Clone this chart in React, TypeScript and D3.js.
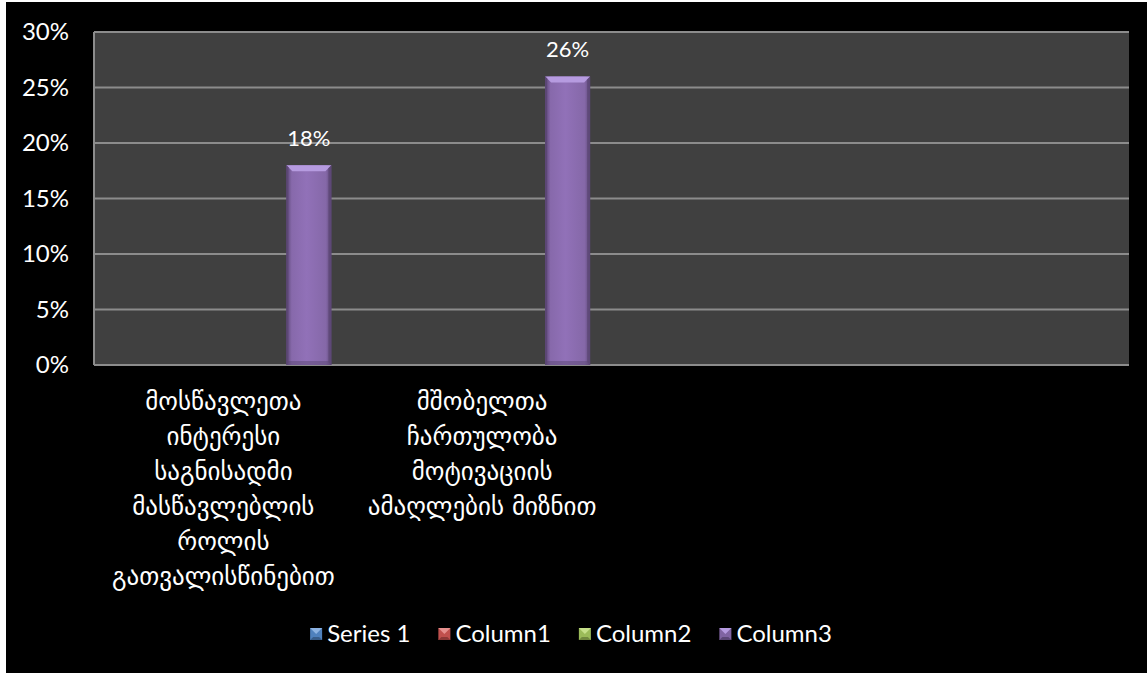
import React, { useEffect, useRef } from "react";
import * as d3 from "d3";

const categories: string[][] = [
  ["მოსწავლეთა", "ინტერესი", "საგნისადმი", "მასწავლებლის", "როლის", "გათვალისწინებით"],
  ["მშობელთა", "ჩართულობა", "მოტივაციის", "ამაღლების მიზნით"],
  [],
  [],
];
const seriesNames = ["Series 1", "Column1", "Column2", "Column3"];
const seriesColors = ["#4F81BD", "#C0504D", "#9BBB59", "#8064A2"];
const seriesLight = ["#8DB3E2", "#E6908E", "#C6E08A", "#B69BE0"];
const seriesDark = ["#385D8A", "#8C3836", "#71893F", "#5C4776"];
const series1: (number | null)[] = [null, null, null, null];
const column1: (number | null)[] = [null, null, null, null];
const column2: (number | null)[] = [null, null, null, null];
const column3: (number | null)[] = [0.18, 0.26, null, null];
const yTicks = [0, 0.05, 0.1, 0.15, 0.2, 0.25, 0.3];

const W = 1147;
const H = 673;
const LATIN = "Lato, 'DejaVu Sans', sans-serif";
const GEO = "'DejaVu Sans', sans-serif";

export default function App() {
  const ref = useRef<SVGSVGElement>(null);
  useEffect(() => {
    const svg = d3.select(ref.current);
    svg.selectAll("*").remove();
    const allSeries = [series1, column1, column2, column3];

    const defs = svg.append("defs");
    seriesNames.forEach((_, i) => {
      const g = defs.append("linearGradient").attr("id", "grad" + i).attr("x1", 0).attr("x2", 1).attr("y1", 0).attr("y2", 0);
      g.append("stop").attr("offset", "0%").attr("stop-color", seriesDark[i]);
      g.append("stop").attr("offset", "12%").attr("stop-color", d3.color(seriesColors[i])!.brighter(0.15).toString());
      g.append("stop").attr("offset", "45%").attr("stop-color", d3.color(seriesColors[i])!.brighter(0.35).toString());
      g.append("stop").attr("offset", "88%").attr("stop-color", d3.color(seriesColors[i])!.brighter(0.1).toString());
      g.append("stop").attr("offset", "100%").attr("stop-color", seriesDark[i]);
    });

    svg.append("rect").attr("x", 0).attr("y", 0).attr("width", W).attr("height", H).attr("fill", "#ffffff");
    svg.append("rect").attr("x", 6).attr("y", 2).attr("width", W - 6).attr("height", H - 2).attr("fill", "#000000");

    const left = 94, right = 1129, top = 32, bottom = 365;
    const y = d3.scaleLinear().domain([0, 0.3]).range([bottom, top]);
    const x0 = d3.scaleBand<number>().domain(categories.map((_, i) => i)).range([left, right]).padding(0);
    const groupW = x0.bandwidth() * 0.835;
    const x1 = d3.scaleBand<string>().domain(seriesNames).range([-groupW / 2, groupW / 2]).paddingInner(0.21).paddingOuter(0);

    svg.append("rect").attr("x", left).attr("y", top).attr("width", right - left).attr("height", bottom - top).attr("fill", "#404040");

    // gridlines
    svg.append("g").selectAll("line").data(yTicks).join("line")
      .attr("x1", left).attr("x2", right)
      .attr("y1", (d) => y(d)).attr("y2", (d) => y(d))
      .attr("stroke", "#8c8c8c").attr("stroke-width", 2);
    svg.append("line").attr("x1", left).attr("x2", left).attr("y1", top).attr("y2", bottom)
      .attr("stroke", "#8c8c8c").attr("stroke-width", 2);

    // y tick labels
    svg.append("g").selectAll("text").data(yTicks).join("text")
      .attr("x", 69).attr("y", (d) => y(d)).attr("dy", "0.35em")
      .attr("text-anchor", "end").attr("fill", "#ffffff")
      .style("font-family", LATIN).style("font-size", "24px")
      .text((d) => d3.format(".0%")(d));

    // bars
    allSeries.forEach((vals, si) => {
      const g = svg.append("g");
      vals.forEach((v, ci) => {
        if (v == null) return;
        const bx = x0(ci)! + x0.bandwidth() / 2 + x1(seriesNames[si])!;
        const bw = x1.bandwidth();
        const by = y(v);
        const bh = y(0) - by;
        const b = 6;
        g.append("rect").attr("x", bx).attr("y", by).attr("width", bw).attr("height", bh).attr("fill", `url(#grad${si})`);
        g.append("polygon")
          .attr("points", [[bx, by], [bx + bw, by], [bx + bw - b, by + b], [bx + b, by + b]].map((p) => p.join(",")).join(" "))
          .attr("fill", seriesLight[si]);
        g.append("polygon")
          .attr("points", [[bx, by], [bx + 2, by + 2], [bx + 2, by + bh - 2], [bx, by + bh]].map((p) => p.join(",")).join(" "))
          .attr("fill", seriesDark[si]);
        g.append("polygon")
          .attr("points", [[bx + bw, by], [bx + bw - 3, by + 3], [bx + bw - 3, by + bh - 3], [bx + bw, by + bh]].map((p) => p.join(",")).join(" "))
          .attr("fill", seriesDark[si]).attr("opacity", 0.8);
        g.append("rect").attr("x", bx).attr("y", by + bh - 4).attr("width", bw).attr("height", 4)
          .attr("fill", seriesDark[si]).attr("opacity", 0.5);
        g.append("text").attr("x", bx + bw / 2).attr("y", by - 19)
          .attr("text-anchor", "middle").attr("fill", "#ffffff")
          .style("font-family", LATIN).style("font-size", "22px")
          .text(d3.format(".0%")(v));
      });
    });

    // category labels
    categories.forEach((lines, ci) => {
      const cx = x0(ci)! + x0.bandwidth() / 2;
      const t = svg.append("text").attr("text-anchor", "middle").attr("fill", "#ffffff")
        .style("font-family", GEO).style("font-size", "25px");
      lines.forEach((ln, li) => {
        t.append("tspan").attr("x", cx).attr("y", 410 + li * 35).text(ln);
      });
    });

    // legend
    const lg = svg.append("g");
    let cursor = 0;
    seriesNames.forEach((name, i) => {
      const it = lg.append("g");
      const mx = cursor;
      it.append("rect").attr("x", mx).attr("y", -6).attr("width", 12).attr("height", 12).attr("fill", seriesColors[i]);
      it.append("polygon").attr("points", `${mx},-6 ${mx + 12},-6 ${mx + 6},0`).attr("fill", seriesLight[i]);
      it.append("polygon").attr("points", `${mx},6 ${mx + 12},6 ${mx + 9},3 ${mx + 3},3`).attr("fill", seriesDark[i]);
      const tx = it.append("text").attr("x", mx + 17).attr("y", 0).attr("dy", "0.35em").attr("fill", "#ffffff")
        .style("font-family", LATIN).style("font-size", "24px").text(name);
      const tw = (tx.node() as SVGTextElement).getComputedTextLength();
      cursor = mx + 17 + tw + 28;
    });
    const total = cursor - 28;
    lg.attr("transform", `translate(${571 - total / 2}, 634)`);
  }, []);
  return <svg ref={ref} width={W} height={H} style={{ position: "absolute", left: 0, top: 0, display: "block" }} />;
}
